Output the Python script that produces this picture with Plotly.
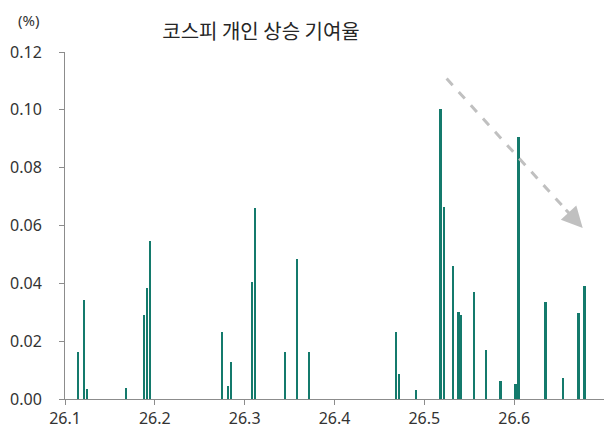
import plotly.graph_objects as go

# Data (x position on month axis, contribution %)
x_pos = [26.1150, 26.1217, 26.1251, 26.1685, 26.1885, 26.1915, 26.1949,
         26.2751, 26.2817, 26.2851, 26.3085, 26.3118, 26.3455, 26.3586, 26.3719,
         26.4684, 26.4717, 26.4914, 26.5182, 26.5218, 26.5319, 26.5382, 26.5415,
         26.5552, 26.5686, 26.5850, 26.6017, 26.6050, 26.6351, 26.6548, 26.6718, 26.6785]
values = [0.0162, 0.0342, 0.0034, 0.0038, 0.0290, 0.0384, 0.0547,
          0.0231, 0.0045, 0.0128, 0.0406, 0.0659, 0.0161, 0.0483, 0.0162,
          0.0233, 0.0086, 0.0031, 0.1003, 0.0664, 0.0459, 0.0301, 0.0291,
          0.0369, 0.0170, 0.0061, 0.0053, 0.0907, 0.0336, 0.0072, 0.0297, 0.0390]

x_ticks = [26.1, 26.2, 26.3, 26.4, 26.5, 26.6]
x_tick_labels = ["26.1", "26.2", "26.3", "26.4", "26.5", "26.6"]
y_ticks = [0, 0.02, 0.04, 0.06, 0.08, 0.10, 0.12]

title_text = "코스피 개인 상승 기여율"
unit_text = "(%)"

# arrow (trend) endpoints in data coords
arrow_start = (26.5248, 0.1108)
arrow_base = (26.6560, 0.0660)
arrow_tip = (26.6763, 0.0591)

bar_color = "#147a6c"
axis_color = "#8c8c8c"
font_fam = "Noto Sans, Noto Sans CJK KR, sans-serif"

W, H = 604, 432
ML, MR, MT, MB = 65, 0, 52, 33
PW, PH = W - ML - MR, H - MT - MB

fig = go.Figure()
fig.add_trace(go.Bar(
    x=x_pos, y=values, width=0.0019,
    marker=dict(color=bar_color, line=dict(width=0)),
    hoverinfo="x+y",
))

fig.add_shape(type="line", xref="x", yref="y",
              x0=arrow_start[0], y0=arrow_start[1], x1=arrow_base[0], y1=arrow_base[1],
              line=dict(color="#c0c0c0", width=3, dash="dash"))
fig.add_annotation(x=arrow_tip[0], y=arrow_tip[1], ax=arrow_base[0], ay=arrow_base[1],
                   xref="x", yref="y", axref="x", ayref="y", text="",
                   showarrow=True, arrowhead=2, arrowsize=1.4, arrowwidth=3,
                   arrowcolor="#c0c0c0")

# unit label in the top-left corner (paper coords relative to plot area)
fig.add_annotation(text=unit_text, xref="paper", yref="paper",
                   x=(28 - ML) / PW, y=(H - MB - 20) / PH,
                   xanchor="center", yanchor="middle", showarrow=False,
                   font=dict(family=font_fam, size=15, color="#333333"))

fig.update_layout(
    width=W, height=H,
    margin=dict(l=ML, r=MR, t=MT, b=MB),
    paper_bgcolor="white", plot_bgcolor="white",
    showlegend=False,
    title=dict(text=title_text, x=261 / W, xref="container", xanchor="center",
               y=1 - 32 / H, yref="container", yanchor="middle",
               font=dict(family="Noto Sans CJK KR, sans-serif", size=20, color="#262626")),
    font=dict(family=font_fam, size=16, color="#333333"),
    bargap=0,
)
fig.update_xaxes(range=[26.1, 26.7], tickvals=x_ticks, ticktext=x_tick_labels,
                 showgrid=False, zeroline=False, showline=True, linecolor=axis_color,
                 linewidth=1, ticks="outside", ticklen=5, tickcolor=axis_color,
                 automargin=False,
                 tickfont=dict(family=font_fam, size=16, color="#333333"))
fig.update_yaxes(range=[0, 0.12], tickvals=y_ticks, tickformat=".2f",
                 showgrid=False, zeroline=False, showline=True, linecolor=axis_color,
                 linewidth=1, ticks="outside", ticklen=5, tickcolor=axis_color,
                 ticklabelstandoff=14, automargin=False,
                 tickfont=dict(family=font_fam, size=16, color="#333333"))

fig.write_html("out.html", config={"displayModeBar": False},
               post_script="document.body.style.margin='0';")
